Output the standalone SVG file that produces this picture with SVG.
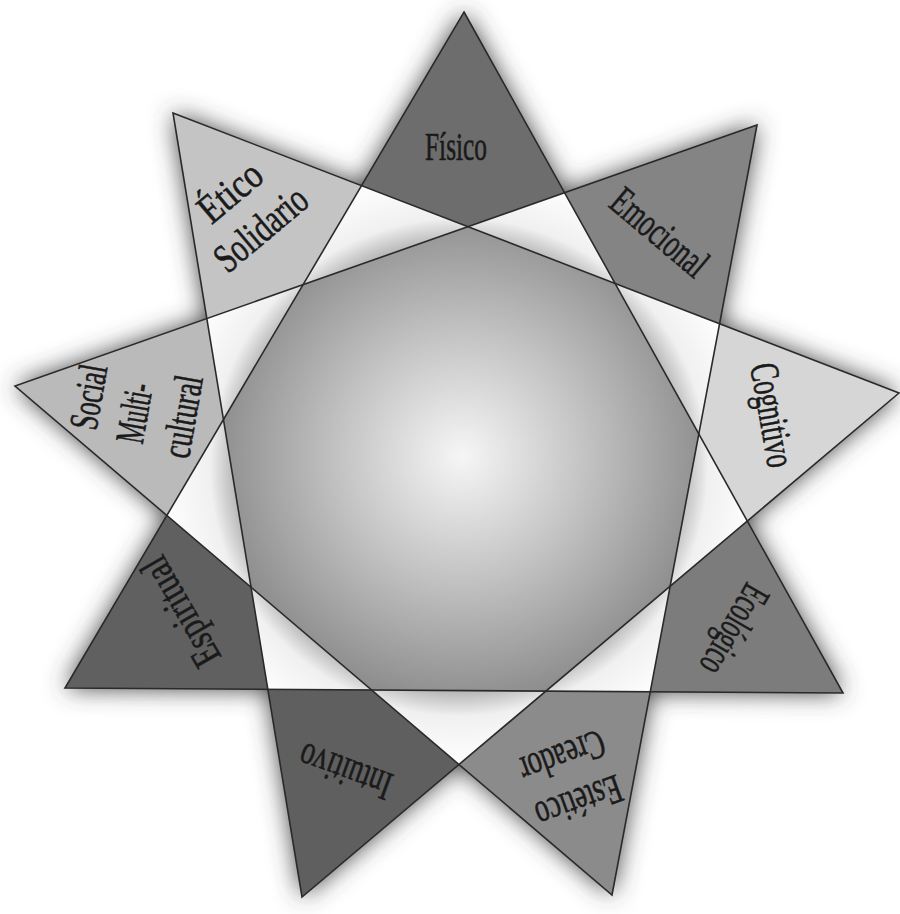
<svg xmlns="http://www.w3.org/2000/svg" width="900" height="914" viewBox="0 0 900 914">
<style>
.lbl{font-family:"Liberation Serif","Times New Roman",serif;font-size:41px;fill:#1a1a1a;stroke:#1a1a1a;stroke-width:0.6;text-anchor:middle}
.edge{fill:none;stroke:#2a2a2a;stroke-width:1.6;stroke-linejoin:miter}
</style>
<defs>
<clipPath id="c0"><polygon points="464,12 843,693 65,688"/></clipPath>
<clipPath id="c1"><polygon points="757,125 612,895 15,386"/></clipPath>
<clipPath id="c2"><polygon points="899,393 302,897 173,113"/></clipPath>
<filter id="sh" filterUnits="userSpaceOnUse" x="-60" y="-60" width="1020" height="1034"><feGaussianBlur stdDeviation="12"/></filter>
<radialGradient id="ng" gradientUnits="userSpaceOnUse" cx="462" cy="456" r="250">
<stop offset="0" stop-color="#f6f6f6"/><stop offset="0.5" stop-color="#c2c2c2"/><stop offset="1" stop-color="#8c8c8c"/>
</radialGradient>
<radialGradient id="wg" gradientUnits="userSpaceOnUse" cx="459" cy="467" r="300">
<stop offset="0" stop-color="#999999"/><stop offset="0.72" stop-color="#a4a4a4"/><stop offset="0.83" stop-color="#f0f0f0"/><stop offset="1" stop-color="#ffffff"/>
</radialGradient>
<radialGradient id="eg" gradientUnits="userSpaceOnUse" cx="262" cy="228" r="110">
<stop offset="0" stop-color="#f2f2f2"/><stop offset="1" stop-color="#c4c4c4"/>
</radialGradient>
<radialGradient id="sg" gradientUnits="userSpaceOnUse" cx="150" cy="420" r="130">
<stop offset="0" stop-color="#dcdcdc"/><stop offset="1" stop-color="#bababa"/>
</radialGradient>
<polygon id="sector" points="459,467 -580,-133 1498,-133"/>
</defs>
<rect width="900" height="914" fill="#ffffff"/>
<g id="shadow" filter="url(#sh)" fill="#404040">
<polygon points="464,12 843,693 65,688"/>
<polygon points="757,125 612,895 15,386"/>
<polygon points="899,393 302,897 173,113"/>
</g>
<g id="fisico">
<g clip-path="url(#c0)"><use href="#sector" fill="#6d6d6d"/></g>
<g transform="translate(456,146)"><text class="lbl" y="14" textLength="62" lengthAdjust="spacingAndGlyphs">Físico</text></g>
</g>
<g id="emocional">
<g clip-path="url(#c1)"><use href="#sector" fill="#848484" transform="rotate(40 459 467)"/></g>
<g transform="translate(660,232) rotate(40)"><text class="lbl" y="14" textLength="114" lengthAdjust="spacingAndGlyphs">Emocional</text></g>
</g>
<g id="cognitivo">
<g clip-path="url(#c2)"><use href="#sector" fill="#d6d6d6" transform="rotate(80 459 467)"/></g>
<g transform="translate(773,415) rotate(80)"><text class="lbl" y="14" textLength="105" lengthAdjust="spacingAndGlyphs">Cognitivo</text></g>
</g>
<g id="ecologico">
<g clip-path="url(#c0)"><use href="#sector" fill="#7c7c7c" transform="rotate(120 459 467)"/></g>
<g transform="translate(735,630) rotate(120)"><text class="lbl" y="14" textLength="97" lengthAdjust="spacingAndGlyphs">Ecológico</text></g>
</g>
<g id="estetico">
<g clip-path="url(#c1)"><use href="#sector" fill="#8b8b8b" transform="rotate(160 459 467)"/></g>
<g transform="translate(571,780) rotate(160)"><text class="lbl" y="-10" textLength="89" lengthAdjust="spacingAndGlyphs">Estético</text><text class="lbl" y="38" textLength="88" lengthAdjust="spacingAndGlyphs">Creador</text></g>
</g>
<g id="intuitivo">
<g clip-path="url(#c2)"><use href="#sector" fill="#5f5f5f" transform="rotate(200 459 467)"/></g>
<g transform="translate(345,772) rotate(200)"><text class="lbl" y="14" textLength="96" lengthAdjust="spacingAndGlyphs">Intuitivo</text></g>
</g>
<g id="espiritual">
<g clip-path="url(#c0)"><use href="#sector" fill="#606060" transform="rotate(240 459 467)"/></g>
<g transform="translate(180,612) rotate(240)"><text class="lbl" y="14" textLength="120" lengthAdjust="spacingAndGlyphs">Espiritual</text></g>
</g>
<g id="social">
<g clip-path="url(#c1)"><use href="#sector" fill="url(#sg)" transform="rotate(280 459 467)"/></g>
<g transform="translate(134,413) rotate(-80)"><text class="lbl" x="8" y="-34" textLength="65" lengthAdjust="spacingAndGlyphs">Social</text><text class="lbl" y="14" textLength="60" lengthAdjust="spacingAndGlyphs">Multi-</text><text class="lbl" x="5" y="62" textLength="83" lengthAdjust="spacingAndGlyphs">cultural</text></g>
</g>
<g id="etico">
<g clip-path="url(#c2)"><use href="#sector" fill="url(#eg)" transform="rotate(320 459 467)"/></g>
<g transform="translate(245,210) rotate(-40)"><text class="lbl" y="-10" textLength="71" lengthAdjust="spacingAndGlyphs">Ético</text><text class="lbl" y="38" textLength="109" lengthAdjust="spacingAndGlyphs">Solidario</text></g>
</g>
<g id="overlaps">
<g clip-path="url(#c0)"><polygon points="757,125 612,895 15,386" fill="url(#wg)"/><polygon points="899,393 302,897 173,113" fill="url(#wg)"/></g>
<g clip-path="url(#c1)"><polygon points="899,393 302,897 173,113" fill="url(#wg)"/></g>
</g>
<g id="center"><g clip-path="url(#c0)"><g clip-path="url(#c1)"><polygon points="899,393 302,897 173,113" fill="url(#ng)"/></g></g></g>
<g id="connectors">
<polygon class="edge" points="464,12 843,693 65,688"/>
<polygon class="edge" points="757,125 612,895 15,386"/>
<polygon class="edge" points="899,393 302,897 173,113"/>
</g>
</svg>
